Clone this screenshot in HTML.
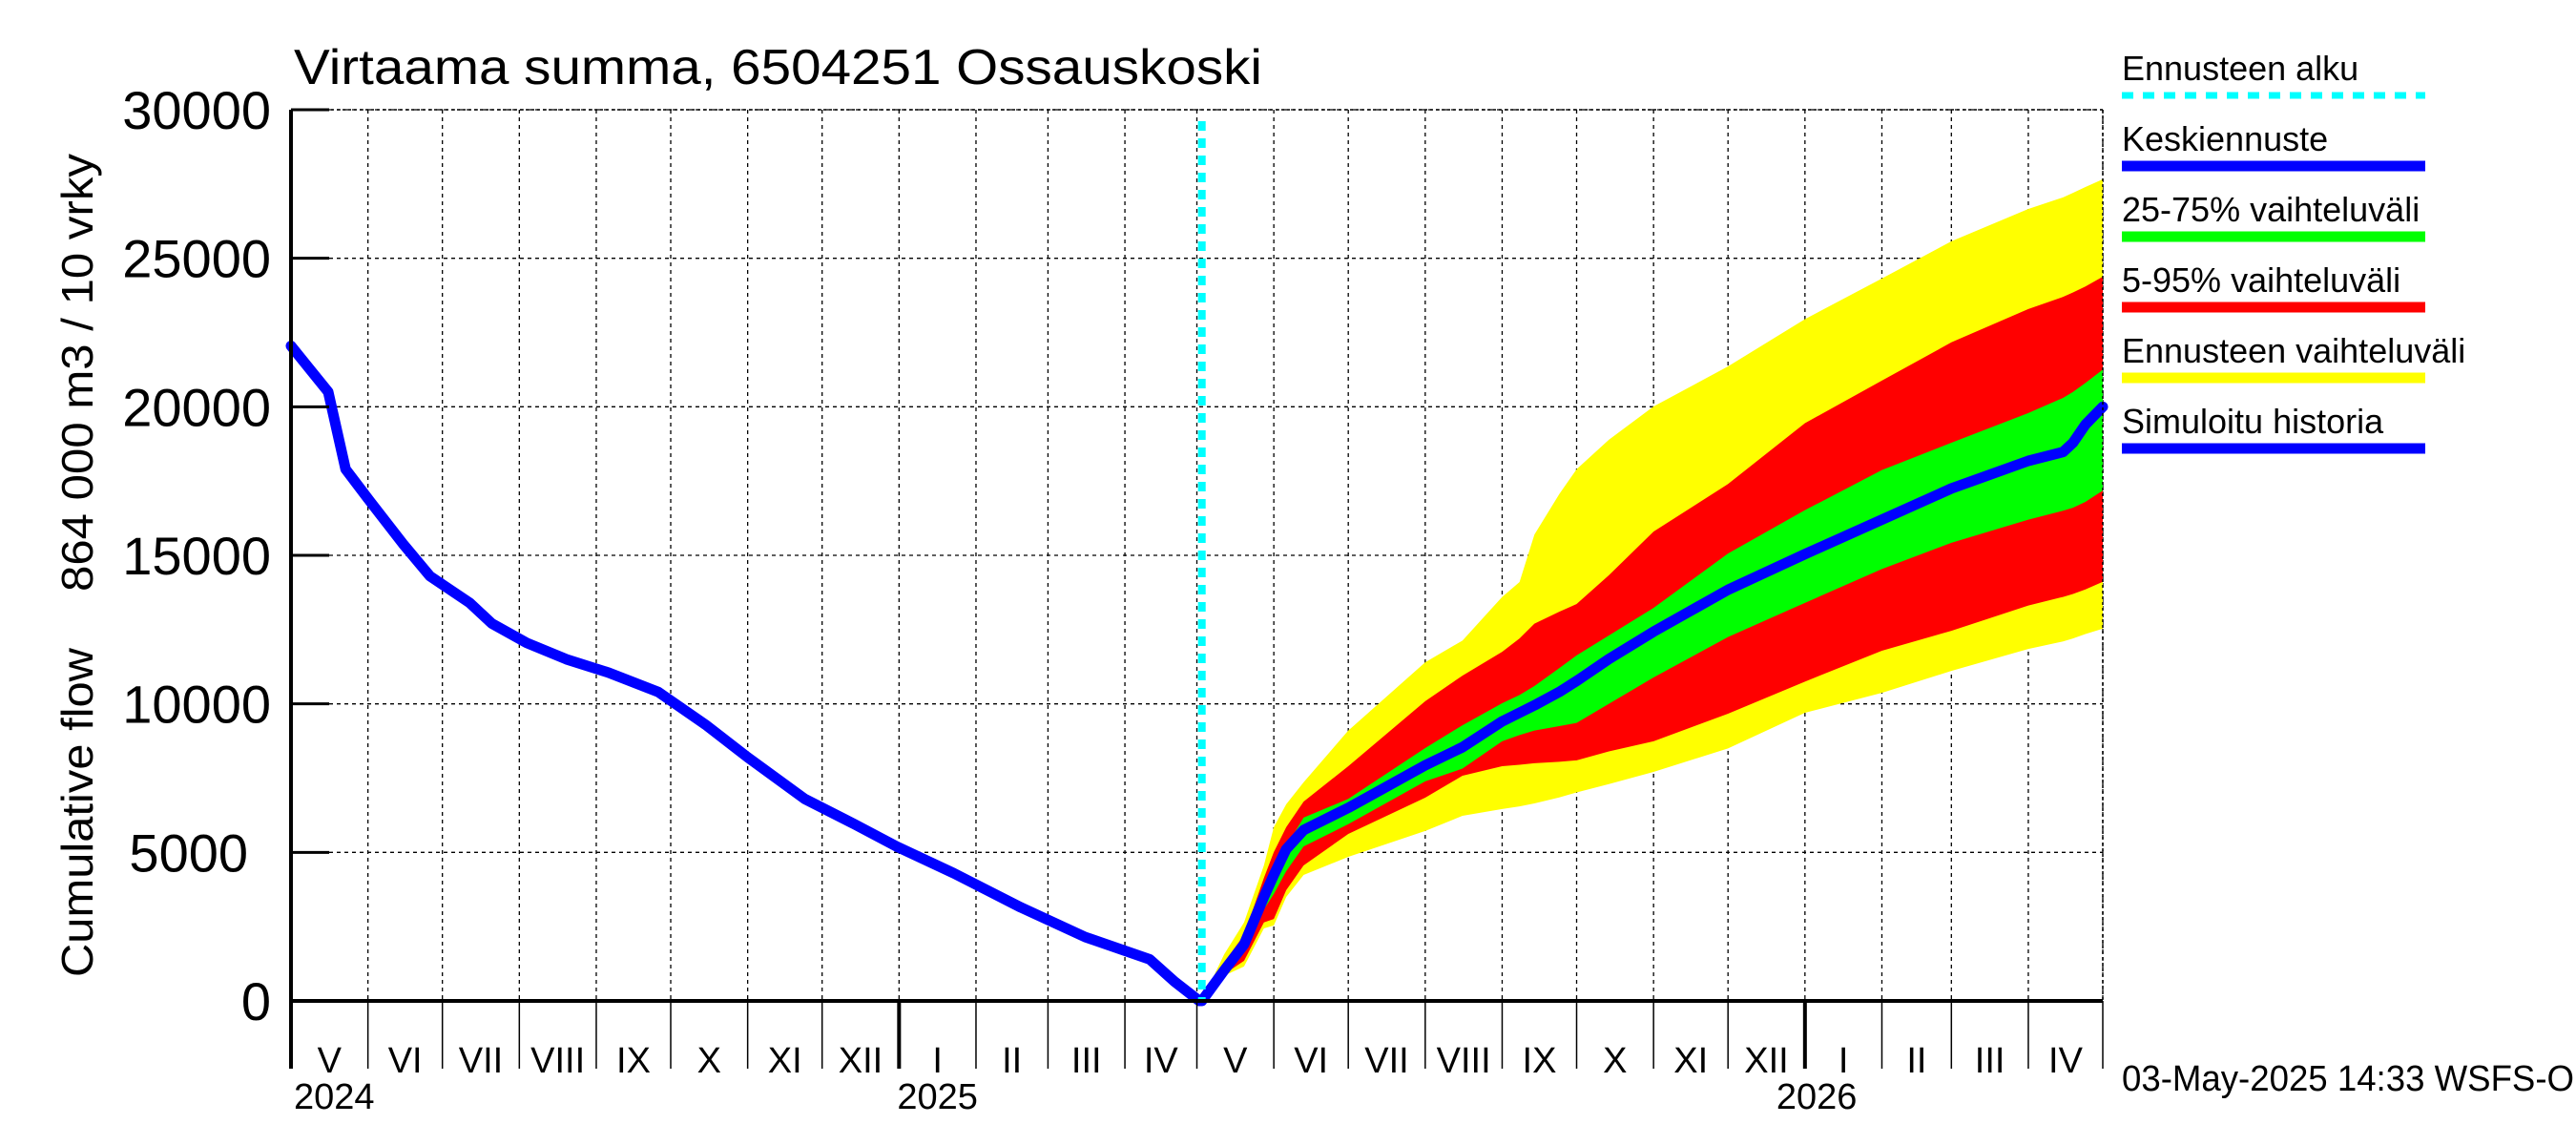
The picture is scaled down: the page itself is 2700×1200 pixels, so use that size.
<!DOCTYPE html>
<html><head><meta charset="utf-8"><style>
html,body{margin:0;padding:0;background:#fff}
svg{display:block;font-family:"Liberation Sans",sans-serif}
</style></head><body>
<svg id="chart" width="2700" height="1200" viewBox="0 0 2700 1200" xmlns="http://www.w3.org/2000/svg">
<text x="308" y="88" font-size="52" textLength="1015" lengthAdjust="spacingAndGlyphs">Virtaama summa, 6504251 Ossauskoski</text>
<text transform="translate(97,1024) rotate(-90)" font-size="46"><tspan x="0" textLength="345" lengthAdjust="spacingAndGlyphs">Cumulative flow</tspan><tspan x="404" textLength="459" lengthAdjust="spacingAndGlyphs">864 000 m3 / 10 vrky</tspan></text>
<g id="grid"></g>
<g id="bands"></g>
<g id="lines"></g>
<g id="axes"></g>
<g id="legend"></g>
<text x="2224" y="1143" font-size="38" textLength="474" lengthAdjust="spacingAndGlyphs">03-May-2025 14:33 WSFS-O</text>
</svg>
<script>
// ---- data ----
const yTicks=[0,5000,10000,15000,20000,25000,30000];
const monthLabels=["V","VI","VII","VIII","IX","X","XI","XII","I","II","III","IV","V","VI","VII","VIII","IX","X","XI","XII","I","II","III","IV"];
const monthStartDays=[0,31,61,92,123,153,184,214,245,276,305,336,365,396,426,457,488,518,549,579,610,641,669,700,730];
const yearLabels=["2024","2025","2026"];
const yearDays=[0,245,610];
const forecastStartDay=367;
const histDays=[0,15,22,32,45,56,72,81,95,111,128,148,167,184,207,227,244,267,294,320,346,356,366];
const histVals=[22050,20500,17900,16800,15400,14300,13400,12700,12050,11500,11050,10400,9300,8200,6800,5950,5200,4300,3150,2150,1400,650,0];
const fDays=[367,376,384,392,396,401,408,426,457,472,488,495,501,511,518,531,549,579,610,641,669,700,714,718,723,730];
const yellowTop=[0,1570,2640,4560,5850,6620,7360,9100,11400,12130,13600,14100,15700,17060,17900,18890,20010,21360,22950,24320,25570,26660,27050,27200,27400,27660];
const redTop=[0,1300,2220,4140,5010,5850,6710,7900,10090,10950,11750,12200,12700,13100,13360,14330,15800,17400,19450,20880,22170,23290,23700,23850,24050,24380];
const greenTop=[0,1150,2000,3730,4370,5200,6170,6800,8510,9280,10020,10300,10600,11200,11630,12300,13230,15060,16520,17870,18790,19790,20300,20500,20800,21250];
const meanVals=[0,1030,1900,3500,4240,5110,5750,6500,7930,8540,9410,9700,9950,10400,10770,11510,12430,13840,15040,16200,17250,18180,18480,18790,19400,20000];
const greenBot=[0,950,1700,3080,3600,4370,5200,5950,7390,7820,8740,8950,9100,9250,9360,10000,10890,12250,13400,14540,15420,16200,16500,16600,16800,17180];
const redBot=[0,900,1350,2640,2760,3730,4560,5620,6840,7580,7900,7950,8000,8050,8100,8400,8740,9670,10750,11790,12460,13310,13600,13700,13850,14110];
const yellowBot=[0,850,1160,2440,2540,3500,4240,4850,5720,6230,6460,6550,6650,6850,7020,7300,7710,8500,9700,10370,11110,11850,12100,12200,12350,12530];
// ---- scales ----
const X0=305,X1=2204,Y0=1049,Y1=115;
const xs=d=>X0+(X1-X0)*d/730;
const ys=v=>Y0-(Y0-Y1)*v/30000;
const NS="http://www.w3.org/2000/svg";
function mk(tag,attrs,parent){const e=document.createElementNS(NS,tag);for(const k in attrs)e.setAttribute(k,attrs[k]);parent.appendChild(e);return e;}
const grid=document.getElementById('grid'),bands=document.getElementById('bands'),lines=document.getElementById('lines'),axes=document.getElementById('axes'),legend=document.getElementById('legend');
yTicks.forEach(v=>{
  const l=mk('line',{x1:X0,x2:X1,y1:ys(v),y2:ys(v),stroke:'#000','stroke-width':1.3,'stroke-dasharray':'4,4'},grid);
  
  
  const t=mk('line',{x1:X0,x2:X0+40,y1:ys(v),y2:ys(v),stroke:'#000','stroke-width':3},axes);
  
  
  const tx=mk('text',{x:(v===5000?260:284),y:ys(v)+20,'font-size':56,'text-anchor':'end'},axes);
  tx.textContent=String(v);
  
  
});
monthStartDays.forEach((d,i)=>{
  const x=xs(d);
  const g=mk('line',{x1:x,x2:x,y1:Y1,y2:Y0,stroke:'#000','stroke-width':1.3,'stroke-dasharray':'4,4'},grid);
  
  
  const t=mk('line',{x1:x,x2:x,y1:Y0,y2:1120,stroke:'#000','stroke-width':(yearDays.includes(d)&&d>0)?4:1.5},axes);
  
  
  if(i<monthLabels.length){
    const tx=mk('text',{x:(xs(d)+xs(monthStartDays[i+1]))/2,y:1124,'font-size':38,'text-anchor':'middle'},axes);
    tx.textContent=monthLabels[i];
    
    
  }
});
yearLabels.forEach((y,i)=>{
  const tx=mk('text',{x:xs(yearDays[i])+(i===0?3:(i===1?-2:-30)),y:1162,'font-size':38},axes);
  tx.textContent=y;
  
  
});
function band(topv,bot,color,name){
  let pts=fDays.map((d,i)=>xs(d)+','+ys(topv[i]));
  pts=pts.concat(fDays.slice().reverse().map((d,j)=>{const i=fDays.length-1-j;return xs(d)+','+ys(bot[i]);}));
  const p=mk('polygon',{points:pts.join(' '),fill:color},bands);
  
  
}
band(yellowTop,yellowBot,'#ffff00','forecast-range-band');
band(redTop,redBot,'#ff0000','band-5-95');
band(greenTop,greenBot,'#00ff00','band-25-75');
function pl(days,vals,name){
  const p=mk('polyline',{points:days.map((d,i)=>xs(d)+','+ys(vals[i])).join(' '),fill:'none',stroke:'#0000ff','stroke-width':11,'stroke-linejoin':'round','stroke-linecap':'round'},lines);
  
  
}
pl(histDays,histVals,'simulated-history-line');
pl(fDays,meanVals,'mean-forecast-line');
const fs=mk('line',{x1:xs(forecastStartDay),x2:xs(forecastStartDay),y1:Y1+12,y2:Y0,stroke:'#00ffff','stroke-width':8,'stroke-dasharray':'10,8'},lines);


const topBorder=mk('line',{x1:X0,x2:X1,y1:Y1,y2:Y1,stroke:'#000','stroke-width':1.5,'stroke-dasharray':'3,3'},axes);


const rightBorder=mk('line',{x1:X1,x2:X1,y1:Y1,y2:Y0,stroke:'#000','stroke-width':1.5,'stroke-dasharray':'3,3'},axes);


const xa=mk('line',{x1:X0,x2:X1,y1:Y0,y2:Y0,stroke:'#000','stroke-width':4},axes);


const ya=mk('line',{x1:X0,x2:X0,y1:Y1,y2:1120,stroke:'#000','stroke-width':4},axes);


const legLabels=["Ennusteen alku","Keskiennuste","25-75% vaihteluväli","5-95% vaihteluväli","Ennusteen vaihteluväli","Simuloitu historia"];
const legColors=["#00ffff","#0000ff","#00ff00","#ff0000","#ffff00","#0000ff"];
legLabels.forEach((s,i)=>{
  const y=84+i*74;
  const t=mk('text',{x:2224,y:y,'font-size':36},legend);
  t.textContent=s;
  
  
  const a={x1:2224,x2:2542,y1:y+16,y2:y+16,stroke:legColors[i],'stroke-width':i===0?7:11};
  if(i===0)a['stroke-dasharray']='12,10';
  const l=mk('line',a,legend);
  
  
});
</script>
</body></html>
